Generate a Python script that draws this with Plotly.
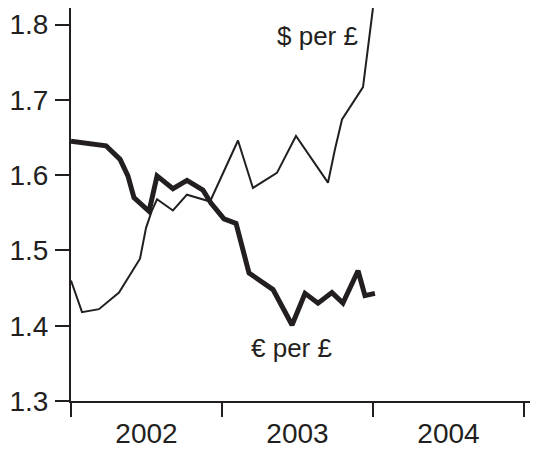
import plotly.graph_objects as go

# Decimal-year positions and exchange rates
usd_x = [2002.000, 2002.073, 2002.185, 2002.318, 2002.457, 2002.497, 2002.536,
         2002.570, 2002.675, 2002.768, 2002.921, 2003.106, 2003.205, 2003.364,
         2003.490, 2003.702, 2003.748, 2003.795, 2003.934, 2003.967, 2004.000]
usd_y = [1.460, 1.418, 1.422, 1.444, 1.489, 1.530, 1.553,
         1.568, 1.553, 1.574, 1.565, 1.646, 1.583, 1.603,
         1.652, 1.590, 1.634, 1.674, 1.717, 1.769, 1.822]

eur_x = [2002.000, 2002.232, 2002.325, 2002.377, 2002.417, 2002.517, 2002.570,
         2002.675, 2002.768, 2002.874, 2002.927, 2003.013, 2003.093, 2003.179,
         2003.338, 2003.464, 2003.550, 2003.636, 2003.728, 2003.801, 2003.901,
         2003.947, 2004.013]
eur_y = [1.645, 1.639, 1.621, 1.599, 1.570, 1.552, 1.599,
         1.582, 1.593, 1.580, 1.563, 1.542, 1.536, 1.470,
         1.448, 1.401, 1.443, 1.430, 1.444, 1.430, 1.473,
         1.440, 1.443]

y_ticks = [1.3, 1.4, 1.5, 1.6, 1.7, 1.8]
year_pos = [2002.5, 2003.5, 2004.5]
year_labels = ["2002", "2003", "2004"]

label_usd = ("$ per £", 2003.63, 1.785)
label_eur = ("€ per £", 2003.46, 1.370)

ink = "#231f20"
font_family = "Liberation Sans, Arial, sans-serif"

fig = go.Figure()
fig.add_trace(go.Scatter(x=usd_x, y=usd_y, mode="lines",
                         line=dict(color=ink, width=2), hoverinfo="skip"))
fig.add_trace(go.Scatter(x=eur_x, y=eur_y, mode="lines",
                         line=dict(color=ink, width=5), hoverinfo="skip"))

for text, x, y in (label_usd, label_eur):
    fig.add_annotation(x=x, y=y, text=text, showarrow=False,
                       font=dict(size=26, color=ink, family=font_family),
                       xanchor="center", yanchor="middle")

fig.update_layout(
    width=533, height=450,
    margin=dict(l=71, r=3, t=8, b=49),
    paper_bgcolor="white", plot_bgcolor="white",
    showlegend=False,
    font=dict(family=font_family, color=ink, size=28),
)
fig.update_xaxes(
    range=[2002, 2005.04], automargin=False,
    tickvals=year_pos, ticktext=year_labels,
    ticks="", showgrid=False, zeroline=False,
    showline=True, linecolor=ink, linewidth=2,
    ticklabelstandoff=6,
    tickfont=dict(size=28, color=ink),
    minor=dict(tick0=2002, dtick=1, ticks="outside", ticklen=14,
               tickwidth=2, tickcolor=ink, showgrid=False),
)
fig.update_yaxes(
    range=[1.3, 1.822], automargin=False,
    tickvals=y_ticks, ticktext=[f"{v:.1f}" for v in y_ticks],
    ticks="outside", ticklen=14, tickwidth=2, tickcolor=ink,
    showgrid=False, zeroline=False,
    showline=True, linecolor=ink, linewidth=2,
    ticklabelstandoff=1,
    tickfont=dict(size=28, color=ink),
)

fig.write_html("out.html",
               config={"displayModeBar": False, "staticPlot": True},
               post_script="document.body.style.margin='0';"
                           "document.body.style.overflow='hidden';")
